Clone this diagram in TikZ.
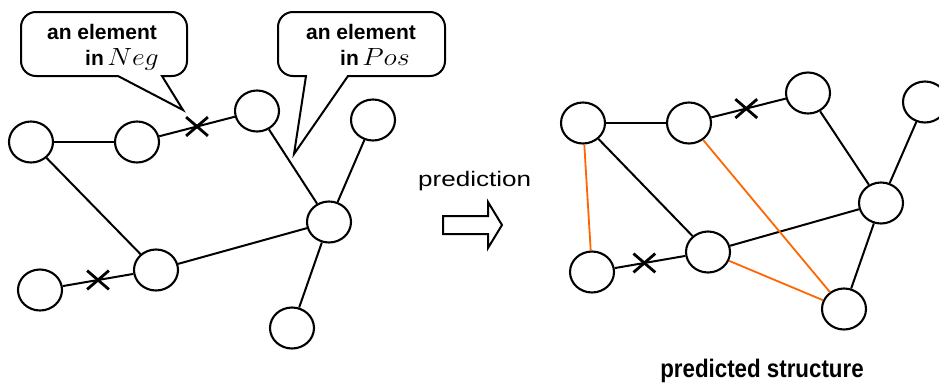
\documentclass[tikz,border=0pt]{standalone}
\usepackage{fontspec}
\setmainfont{Liberation Sans}
\usepackage{graphicx}
\usetikzlibrary{shapes.geometric,shapes.misc}
\definecolor{predorange}{RGB}{255,102,0}
\tikzset{
  vert/.style={ellipse,draw,line width=2.1pt,fill=white,minimum width=44pt,minimum height=41pt,inner sep=0pt},
  edge/.style={line width=2pt},
  newedge/.style={line width=1.8pt,draw=predorange},
  xmark/.style={cross out,draw,line width=2.8pt,minimum width=19pt,minimum height=16pt,inner sep=0pt},
  bubble/.style={line width=2pt,fill=white},
  btext/.style={font=\fontsize{21}{25}\selectfont\bfseries,inner sep=0pt},
}
\newcommand{\setname}[1]{\scalebox{1.12}[1]{\fontsize{25}{30}\selectfont$#1$}}
\begin{document}
\begin{tikzpicture}[x=1pt,y=-1pt]
\useasboundingbox (0,0) rectangle (939,383);
\clip (0,0) rectangle (939,383);

% ---- speech bubbles ----
\draw[bubble] (183,110) -- (162,76) [rounded corners=15pt] -- (187,76) -- (187,12) -- (21,12) -- (21,76) [sharp corners] -- (118,76) -- cycle;
\node[btext,anchor=base] (negtop) at (102,39) {an element};
\node[btext,anchor=base west] (negbot) at (85,65) {in\,\setname{Neg}};

\draw[bubble] (294,154) -- (348,76) [rounded corners=15pt] -- (445,76) -- (445,12) -- (278,12) -- (278,76) [sharp corners] -- (306,76) -- cycle;
\node[btext,anchor=base] (postop) at (361,39) {an element};
\node[btext,anchor=base west] (posbot) at (340,65) {in\,\setname{Pos}};

% ---- observed graph ----
\node[vert] (a) at (31,142) {};
\node[vert] (b) at (137,142) {};
\node[vert] (c) at (257,111) {};
\node[vert] (d) at (373,120) {};
\node[vert] (e) at (329,222) {};
\node[vert] (f) at (156,270) {};
\node[vert] (g) at (40,290) {};
\node[vert] (h) at (292,328) {};

\draw[edge] (a) -- (b);
\draw[edge] (b) -- node[xmark,pos=0.5] (x1) {} (c);
\draw[edge] (a) -- (f);
\draw[edge] (c) -- (e);
\draw[edge] (d) -- (e);
\draw[edge] (f) -- (e);
\draw[edge] (g) -- node[xmark,pos=0.5] (x2) {} (f);
\draw[edge] (e) -- (h);

% ---- prediction arrow ----
\node[font=\fontsize{21}{25}\selectfont,anchor=base west,inner sep=0pt] (predlbl) at (418,186) {\scalebox{1.24}[1]{prediction}};
\draw[line width=2pt,fill=white] (443,216) -- (488,216) -- (488,202) -- (502,225) -- (488,248) -- (488,234) -- (443,234) -- cycle;

% ---- predicted graph ----
\node[vert] (pa) at (583,123) {};
\node[vert] (pb) at (689,123) {};
\node[vert] (pc) at (808,93) {};
\node[vert] (pd) at (925,102) {};
\node[vert] (pe) at (881,203) {};
\node[vert] (pf) at (708,252) {};
\node[vert] (pg) at (592,272) {};
\node[vert] (ph) at (844,309) {};

\draw[edge] (pa) -- (pb);
\draw[edge] (pb) -- node[xmark,pos=0.47] (x3) {} (pc);
\draw[edge] (pc) -- (pe);
\draw[edge] (pd) -- (pe);
\draw[edge] (pa) -- (pf);
\draw[edge] (pf) -- (pe);
\draw[edge] (pg) -- node[xmark,pos=0.42] (x4) {} (pf);
\draw[edge] (pe) -- (ph);
\draw[newedge] (pa) -- (pg);
\draw[newedge] (pb) -- (ph);
\draw[newedge] (pf) -- (ph);

\node[font=\fontsize{23.5}{28}\selectfont\bfseries,anchor=base,inner sep=0pt] (predstruct) at (762,377) {\scalebox{0.95}[1.08]{predicted structure}};
\end{tikzpicture}
\end{document}
